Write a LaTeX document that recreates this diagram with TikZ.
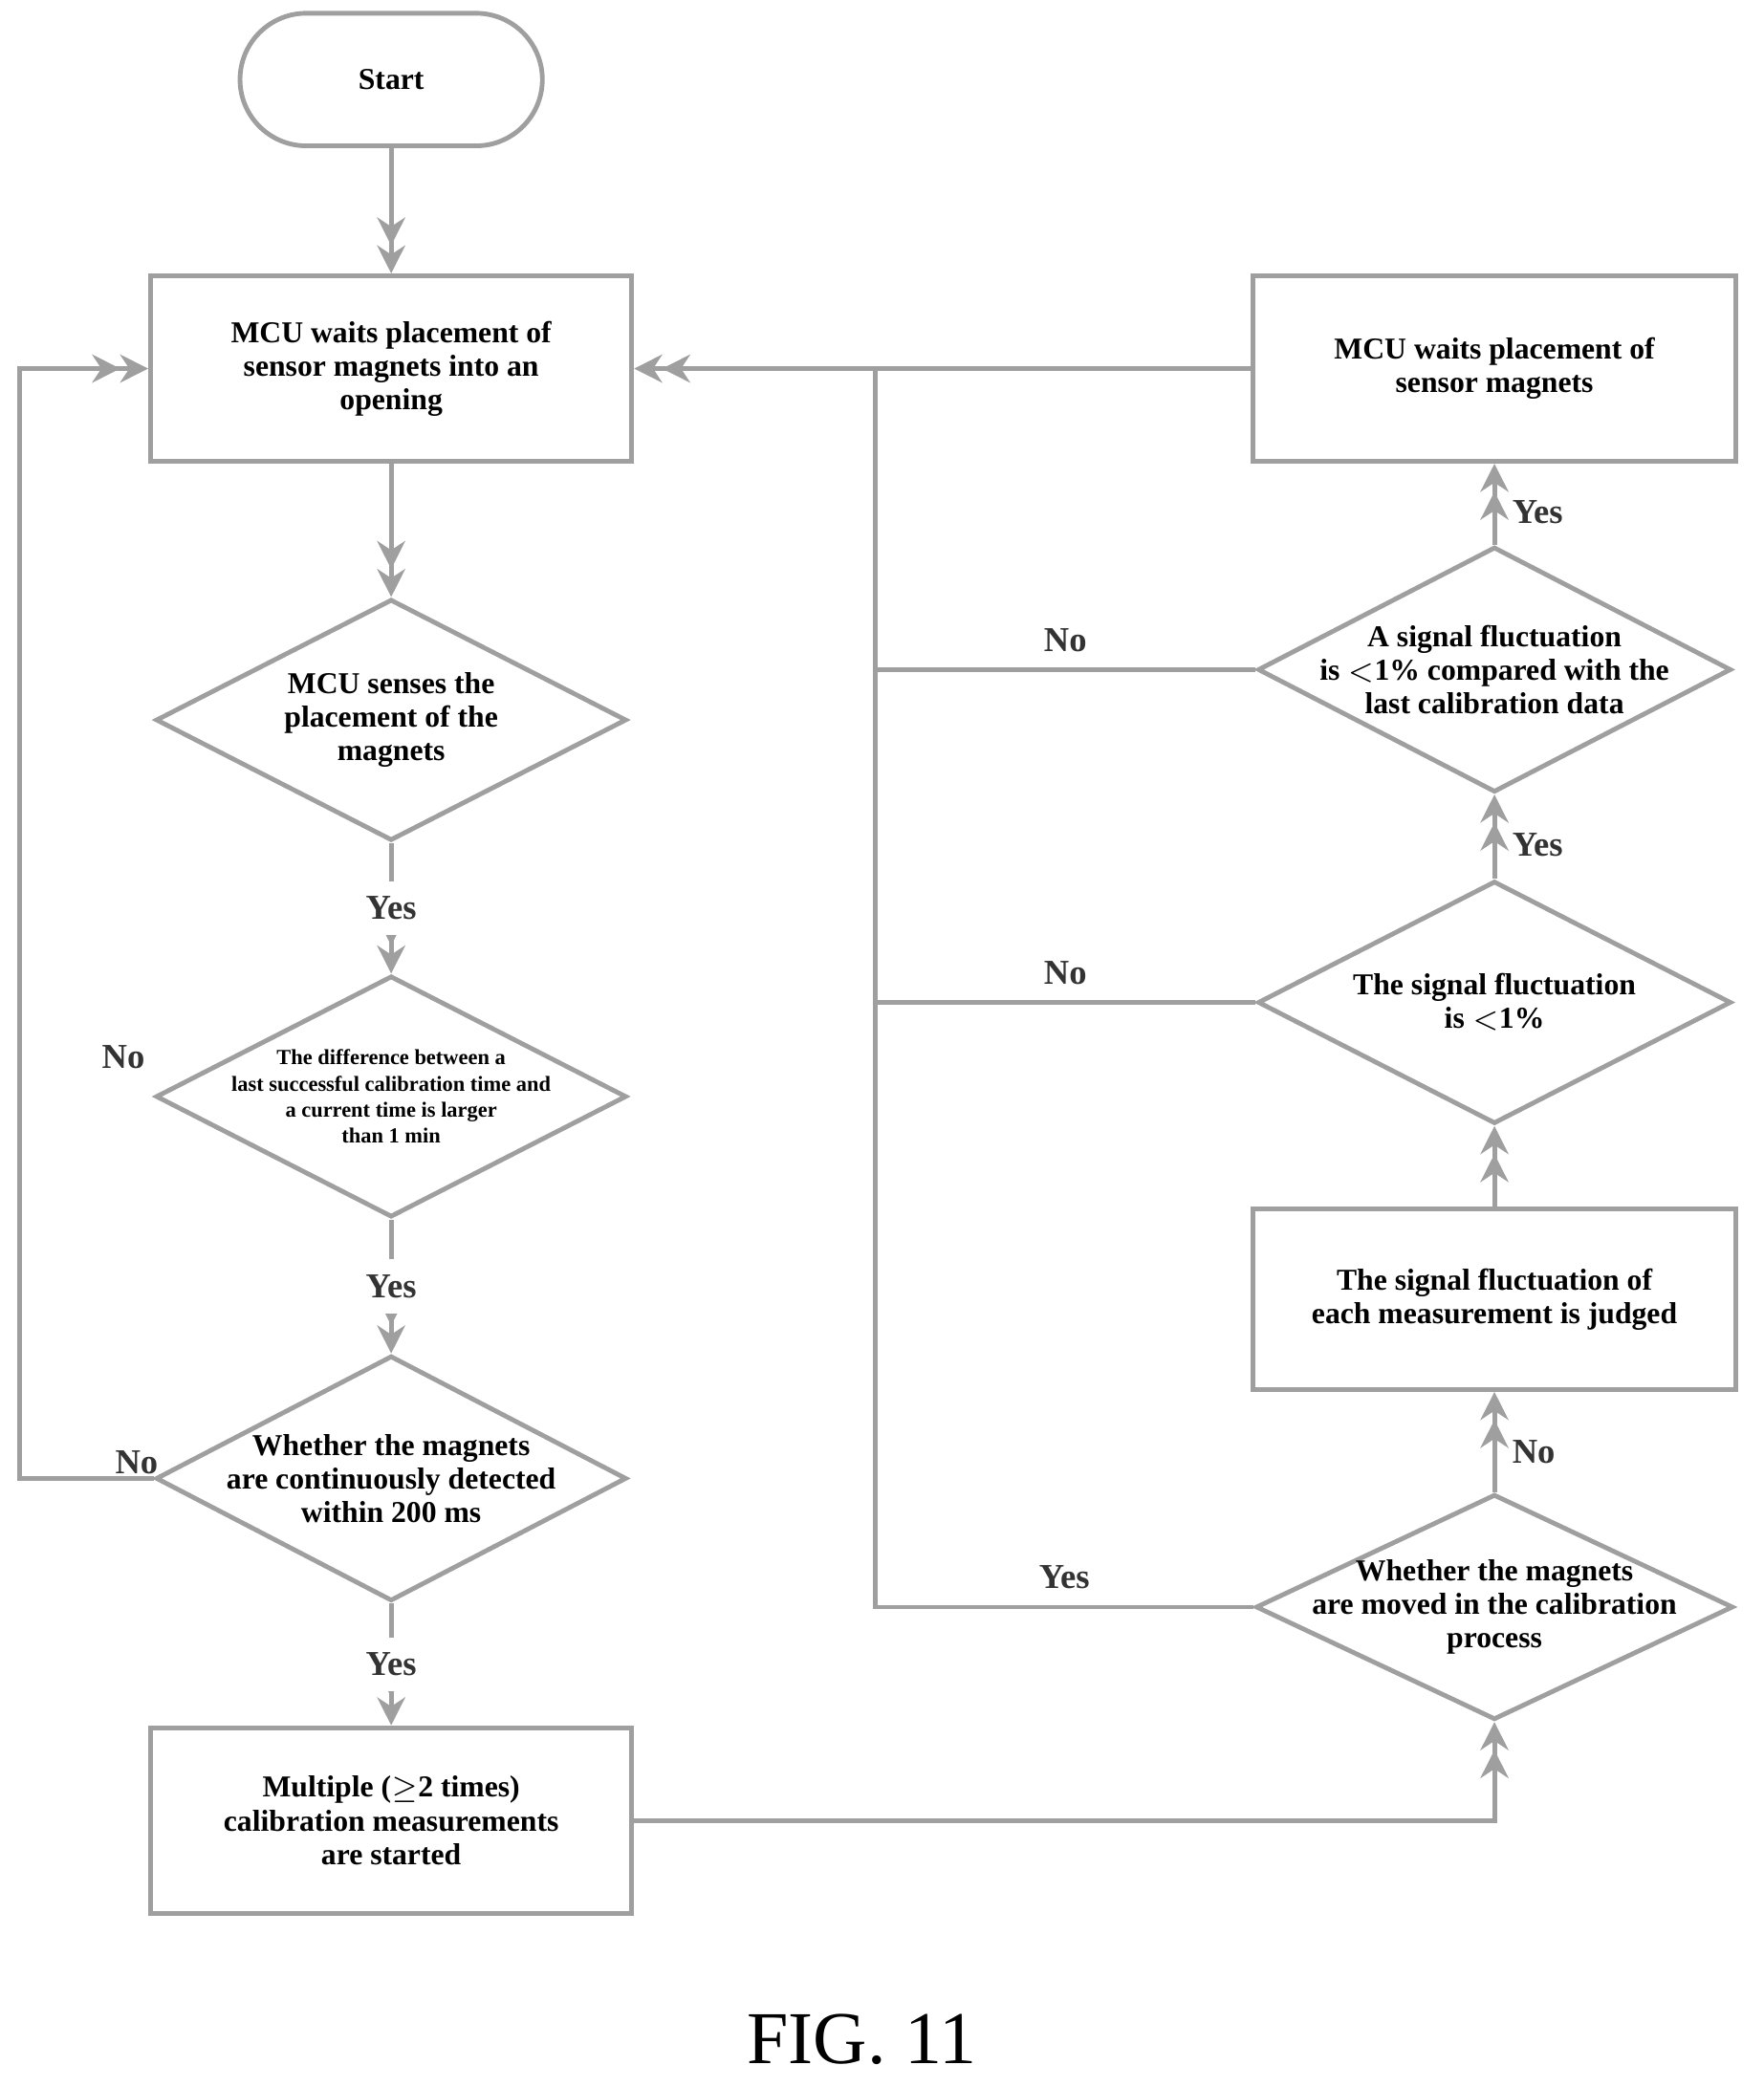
\documentclass[tikz,border=0pt]{standalone}
\usepackage{fontspec}
\setmainfont{Liberation Serif}
\usetikzlibrary{shapes.geometric,arrows.meta}
\begin{document}
\begin{tikzpicture}[x=1cm,y=-1cm]
      \useasboundingbox(0,0) rectangle (13.3,15.74);
      \tikzset{B/.style = {shape=rectangle, draw=gray!75, line width=1pt, minimum width=3.63cm, minimum height=1.4cm, align=center, font=\fontsize{6.5}{7.2}\selectfont\bfseries}}
      \tikzset{D/.style = {shape=diamond, draw=gray!75, line width=1pt, minimum width=3.55cm, minimum height=1.82cm, inner sep=0pt}}
      \tikzset{DT/.style = {align=center, font=\fontsize{6.5}{7.2}\selectfont\bfseries}}
      \tikzset{E/.style = {draw=gray!75, line width=1pt, -{Stealth[length=6pt,width=6pt]Stealth[length=6pt,width=6pt]}}}
      \tikzset{L/.style = {draw=gray!75, line width=1pt}}
      \tikzset{T/.style = {font=\fontsize{7.5}{8}\selectfont\bfseries, text=black!80}}
      \node[B,rounded corners=0.5cm,minimum width=2.28cm,minimum height=1cm](start) at (2.95,0.6) {Start};
      \node[B](wait) at (2.95,2.78) {MCU waits placement of\\sensor magnets into an\\opening};
      \node[D,label={[DT]center:MCU senses the\\placement of the\\magnets}](sense) at (2.95,5.43) {};
      \node[D,label={[DT,font=\fontsize{4.6}{5.6}\selectfont\bfseries]center:The difference between a\\last successful calibration time and\\a current time is larger\\than 1 min}](diff) at (2.95,8.27) {};
      \node[D,minimum height=1.85cm,label={[DT]center:Whether the magnets\\are continuously detected\\within 200 ms}](cont) at (2.95,11.15) {};
      \node[B](multi) at (2.95,13.73) {Multiple ($\geq$2 times)\\calibration measurements\\are started};
      \node[D,minimum width=3.6cm,minimum height=1.7cm,label={[DT]center:Whether the magnets\\are moved in the calibration\\process}](moved) at (11.27,12.12) {};
      \node[B,minimum width=3.64cm,minimum height=1.36cm](judge) at (11.27,9.8) {The signal fluctuation of\\each measurement is judged};
      \node[D,minimum width=3.57cm,minimum height=1.83cm,label={[DT]center:The signal fluctuation\\is $<$1\%}](flu) at (11.27,7.56) {};
      \node[D,minimum width=3.57cm,minimum height=1.85cm,label={[DT]center:A signal fluctuation\\is $<$1\% compared with the\\last calibration data}](last) at (11.27,5.05) {};
      \node[B,minimum width=3.64cm](wait2) at (11.27,2.78) {MCU waits placement of\\sensor magnets};
      \coordinate (bus) at (6.6,2.78);
      \coordinate (loop) at (0.15,2.78);
      \node[font=\fontsize{16}{18}\selectfont](fig) at (6.5,15.38) {FIG. 11};
      \draw[E](start) to (wait);
      \draw[E](wait) to (sense);
      \draw[E](sense) to node[T,fill=white,pos=0.5]{Yes} (diff);
      \draw[E](diff) to node[T,fill=white,pos=0.5]{Yes} (cont);
      \draw[E](cont) to node[T,fill=white,pos=0.5]{Yes} (multi);
      \draw[E](cont.west) -| (loop) -- (wait.west);
      \node[T] at (1.03,11.03) {No};
      \node[T] at (0.93,7.97) {No};
      \draw[E](multi.east) -| (moved.south);
      \draw[E](moved) to node[T,right,pos=0.4]{No} (judge);
      \draw[E](judge) to (flu);
      \draw[E](flu) to node[T,right,pos=0.4]{Yes} (last);
      \draw[E](last) to node[T,right,pos=0.4]{Yes} (wait2);
      \draw[E](wait2.west) -- (wait.east);
      \draw[L](moved.west) -| node[T,above,pos=0.25]{Yes} (bus);
      \draw[L](flu.west) -- node[T,above]{No} (flu.west -| bus);
      \draw[L](last.west) -- node[T,above]{No} (last.west -| bus);
\end{tikzpicture}
\end{document}
